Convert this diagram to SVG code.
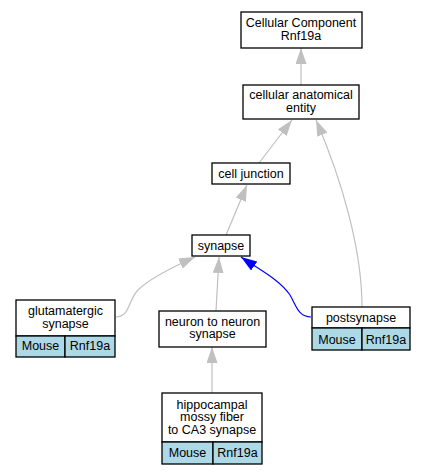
<svg xmlns="http://www.w3.org/2000/svg" width="427" height="475" viewBox="0 0 427 475">
<style>
text{font-family:"Liberation Sans",Arial,sans-serif;font-size:12.5px;fill:#000;text-anchor:middle}
.box{fill:#fff;stroke:#000;stroke-width:1.3}
.cell{fill:#add8e6;stroke:#000;stroke-width:1.3}
.e{fill:none;stroke:#c0c0c0;stroke-width:1.2}
.b{fill:none;stroke:#0000ff;stroke-width:1.2}
</style>
<defs>
<marker id="ag" viewBox="0 0 16 11" refX="16" refY="5.5" markerWidth="16" markerHeight="11" markerUnits="userSpaceOnUse" orient="auto"><path d="M0,0 L16,5.5 L0,11 z" fill="#c0c0c0"/></marker>
<marker id="ab" viewBox="0 0 16 11" refX="16" refY="5.5" markerWidth="16" markerHeight="11" markerUnits="userSpaceOnUse" orient="auto"><path d="M0,0 L16,5.5 L0,11 z" fill="#0000ff"/></marker>
</defs>
<rect width="427" height="475" fill="#fff"/>
<g id="edges">
<path class="e" d="M301,85 L301,48" marker-end="url(#ag)"/>
<path class="e" d="M259,163 L292,120" marker-end="url(#ag)"/>
<path class="e" d="M362,307 C362,250 342,180 316,120" marker-end="url(#ag)"/>
<path class="e" d="M226,235 L247,185" marker-end="url(#ag)"/>
<path class="e" d="M116,317 C130,317 128,300 138,290 C150,278 175,266 195,257" marker-end="url(#ag)"/>
<path class="e" d="M216,311 L219,257" marker-end="url(#ag)"/>
<path class="b" d="M311,317 C298,317 296,305 290,295 C280,280 260,270 241,257" marker-end="url(#ab)"/>
<path class="e" d="M212,393 L212,347" marker-end="url(#ag)"/>
</g>
<g id="n_cc">
<rect class="box" x="241" y="12" width="121" height="36"/>
<text x="301" y="27">Cellular Component</text>
<text x="301" y="39.5">Rnf19a</text>
</g>
<g id="n_cae">
<rect class="box" x="243" y="85" width="116" height="34"/>
<text x="301" y="99">cellular anatomical</text>
<text x="301" y="111.5">entity</text>
</g>
<g id="n_cj">
<rect class="box" x="212" y="163" width="78" height="21"/>
<text x="251" y="178">cell junction</text>
</g>
<g id="n_syn">
<rect class="box" x="192" y="235" width="58" height="21"/>
<text x="221" y="250">synapse</text>
</g>
<g id="n_glu">
<rect class="box" x="16" y="300" width="99" height="36"/>
<rect class="cell" x="16" y="336" width="49" height="21"/>
<rect class="cell" x="65" y="336" width="50" height="21"/>
<text x="65.5" y="315">glutamatergic</text>
<text x="65.5" y="327.5">synapse</text>
<text x="40.5" y="350">Mouse</text>
<text x="90" y="350">Rnf19a</text>
</g>
<g id="n_nn">
<rect class="box" x="159" y="311" width="107" height="36"/>
<text x="212.5" y="325.5">neuron to neuron</text>
<text x="212.5" y="338">synapse</text>
</g>
<g id="n_post">
<rect class="box" x="312" y="307" width="98" height="21"/>
<rect class="cell" x="312" y="328" width="50" height="22"/>
<rect class="cell" x="362" y="328" width="48" height="22"/>
<text x="361" y="322">postsynapse</text>
<text x="337" y="343.5">Mouse</text>
<text x="386" y="343.5">Rnf19a</text>
</g>
<g id="n_hip">
<rect class="box" x="162" y="393" width="100" height="49"/>
<rect class="cell" x="162" y="442" width="51" height="22"/>
<rect class="cell" x="213" y="442" width="49" height="22"/>
<text x="212" y="408.5">hippocampal</text>
<text x="212" y="421">mossy fiber</text>
<text x="212" y="433.5">to CA3 synapse</text>
<text x="187.5" y="457">Mouse</text>
<text x="237.5" y="457">Rnf19a</text>
</g>
</svg>
